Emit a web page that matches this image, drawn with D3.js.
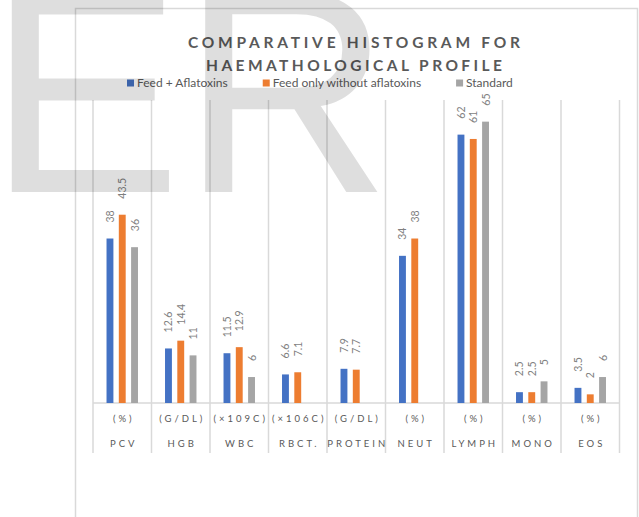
<!DOCTYPE html>
<html><head><meta charset="utf-8">
<script src="https://cdn.jsdelivr.net/npm/d3@7"></script>
<style>
html,body{margin:0;padding:0;background:#fff;}
svg{display:block;}
</style></head>
<body>
<svg id="c" width="639" height="517"></svg>
<script>
// ---- data ----
const categories = ["PCV","HGB","WBC","RBCT.","PROTEIN","NEUT","LYMPH","MONO","EOS"];
const units = ["(%)","(G/DL)","(×109C)","(×106C)","(G/DL)","(%)","(%)","(%)","(%)"];
const seriesNames = ["Feed + Aflatoxins","Feed only without aflatoxins","Standard"];
const feedAflatoxins = [38, 12.6, 11.5, 6.6, 7.9, 34, 62, 2.5, 3.5];
const feedOnly = [43.5, 14.4, 12.9, 7.1, 7.7, 38, 61, 2.5, 2];
const standard = [36, 11, 6, null, null, null, 65, 5, 6];
const colors = ["#4472C4","#ED7D31","#A5A5A5"];
const titleLines = ["COMPARATIVE HISTOGRAM FOR","HAEMATHOLOGICAL PROFILE"];

const seriesValues = [feedAflatoxins, feedOnly, standard];
const svg = d3.select("#c");
const FONT = "Lato, 'Liberation Sans', sans-serif";
const TXT = "#595959";

// frame
svg.append("rect").attr("x",75.5).attr("y",8.5).attr("width",562).attr("height",520)
  .attr("fill","none").attr("stroke","#d9d9d9").attr("stroke-width",1.5);

// scales
const x = d3.scaleBand().domain(categories).range([93, 619.5]).padding(0);
const bw = x.bandwidth();
const xs = d3.scaleBand().domain(d3.range(3))
  .range([(bw - bw*0.63)/2, (bw + bw*0.63)/2]).paddingInner(0.44).paddingOuter(0.22);
const y = d3.scaleLinear().domain([0,70]).range([403,100]);

// vertical category separators
const seps = categories.map((c)=>x(c)).concat([x.range()[1]]);
svg.append("g").selectAll("line").data(seps).join("line")
  .attr("x1",d=>d).attr("x2",d=>d).attr("y1",y(70)).attr("y2",453)
  .attr("stroke","#d9d9d9").attr("stroke-width",1.5);

// baseline
svg.append("line").attr("x1",x.range()[0]).attr("x2",x.range()[1])
  .attr("y1",y(0)).attr("y2",y(0)).attr("stroke","#d9d9d9").attr("stroke-width",1.5);

// bars
const flat = [];
seriesValues.forEach((arr,si)=>arr.forEach((v,ci)=>{ if(v!=null) flat.push({si,ci,v}); }));
svg.append("g").selectAll("rect").data(flat).join("rect")
  .attr("x",d=>x(categories[d.ci]) + xs(d.si))
  .attr("width",xs.bandwidth())
  .attr("y",d=>y(d.v))
  .attr("height",d=>y(0)-y(d.v))
  .attr("fill",d=>colors[d.si]);

// value labels
svg.append("g").selectAll("text").data(flat).join("text")
  .attr("transform",d=>`translate(${x(categories[d.ci]) + xs(d.si) + xs.bandwidth()/2},${y(d.v)-16}) rotate(-90)`)
  .attr("dominant-baseline","central")
  .attr("text-anchor","start")
  .attr("font-family",FONT).attr("font-size",10.5).attr("fill","#7f7f7f")
  .text(d=>d.v);

// category labels (two levels)
const LS = 3;
function catRow(arr, yy){
  svg.append("g").selectAll("text").data(arr).join("text")
    .attr("x",(d,i)=>x(categories[i]) + bw/2 + LS/2)
    .attr("y",yy)
    .attr("text-anchor","middle")
    .attr("font-family",FONT).attr("font-size",9.5).attr("fill",TXT)
    .style("letter-spacing",LS+"px")
    .text(d=>d);
}
catRow(units, 422);
catRow(categories, 447);

// title
const tl = [{t:titleLines[0],x:188,y:48,w:332},{t:titleLines[1],x:206,y:71,w:296}];
svg.append("g").selectAll("text").data(tl).join("text")
  .attr("x",d=>d.x).attr("y",d=>d.y)
  .attr("textLength",d=>d.w).attr("lengthAdjust","spacing")
  .attr("font-family",FONT).attr("font-weight","bold").attr("font-size",15.5).attr("fill",TXT)
  .text(d=>d.t);

// legend
const lg = svg.append("g");
let lx = 127;
seriesNames.forEach((n,i)=>{
  lg.append("rect").attr("x",lx).attr("y",79.5).attr("width",7).attr("height",7).attr("fill",colors[i]);
  const t = lg.append("text").attr("x",lx+10).attr("y",87)
    .attr("font-family",FONT).attr("font-size",12).attr("fill",TXT).text(n);
  lx += 10 + t.node().getComputedTextLength() + 35;
});

// watermark
svg.append("text").attr("x",-12).attr("y",192)
  .attr("font-family","'Liberation Sans', Arial, sans-serif").attr("font-size",290)
  .attr("fill","#000").attr("fill-opacity",0.13).text("ER");
</script>
</body></html>
